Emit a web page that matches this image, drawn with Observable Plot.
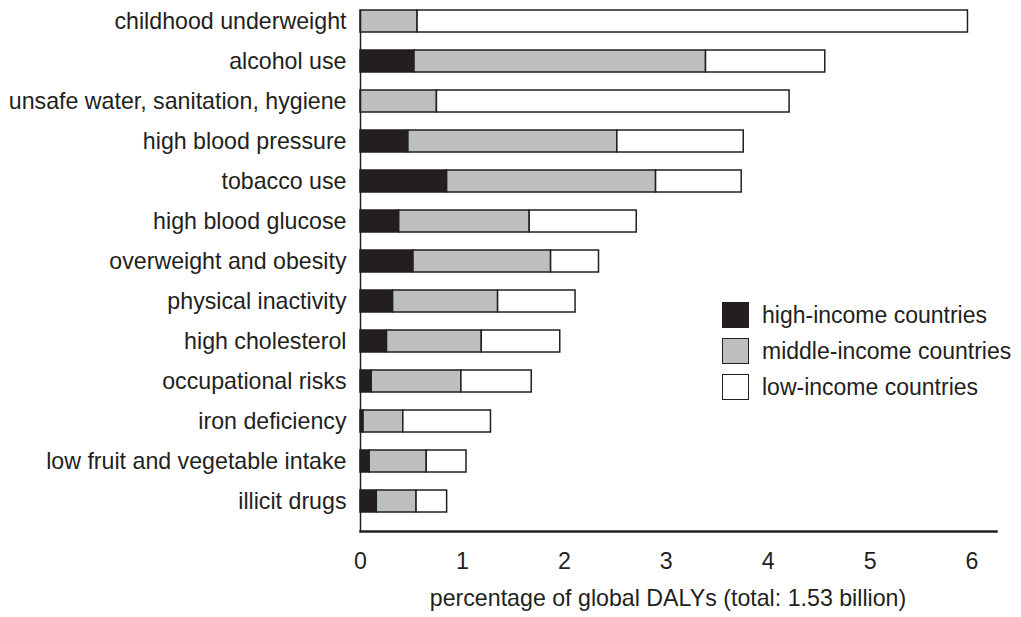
<!DOCTYPE html>
<html><head><meta charset="utf-8">
<script src="https://cdn.jsdelivr.net/npm/d3@7"></script>
<script src="https://cdn.jsdelivr.net/npm/@observablehq/plot@0.6"></script>
<style>
body{margin:0;background:#fff;}
#wrap{position:relative;width:1021px;height:617px;font-family:"Liberation Sans",Arial,sans-serif;color:#231f20;}
.leg{position:absolute;left:722px;height:26px;display:flex;align-items:center;font-size:23px;white-space:nowrap;}
.sw{width:27px;height:26px;border:1.5px solid #231f20;box-sizing:border-box;margin-right:13px;}
</style>
</head><body>
<div id="wrap"></div>
<script>
const categories = ["childhood underweight","alcohol use","unsafe water, sanitation, hygiene","high blood pressure","tobacco use","high blood glucose","overweight and obesity","physical inactivity","high cholesterol","occupational risks","iron deficiency","low fruit and vegetable intake","illicit drugs"];
const highIncome   = [0.00, 0.53, 0.00, 0.47, 0.85, 0.38, 0.52, 0.32, 0.26, 0.11, 0.03, 0.09, 0.16];
const middleIncome = [0.56, 2.86, 0.75, 2.05, 2.05, 1.28, 1.35, 1.03, 0.93, 0.88, 0.39, 0.56, 0.39];
const lowIncome    = [5.40, 1.17, 3.46, 1.24, 0.84, 1.05, 0.47, 0.76, 0.77, 0.69, 0.86, 0.39, 0.30];
const seriesNames = ["high-income countries","middle-income countries","low-income countries"];
const seriesColors = ["#231f20","#bcbec0","#ffffff"];
const xTicks = [0,1,2,3,4,5,6];
const xLabel = "percentage of global DALYs (total: 1.53 billion)";

const seriesValues = [highIncome, middleIncome, lowIncome];
const rows = [];
categories.forEach((c,i)=>{
  seriesValues.forEach((arr,j)=> rows.push({category:c, series:seriesNames[j], value:arr[i]}));
});

const chart = Plot.plot({
  width:1021, height:617,
  marginLeft:360, marginRight:25, marginTop:10, marginBottom:86,
  style:"font-family:'Liberation Sans',Arial,sans-serif;font-size:23.2px;color:#231f20;background:#fff;",
  x:{domain:[0,6.24], ticks:xTicks, tickSize:0, tickPadding:21, label:null, tickFormat:d=>String(d)},
  y:{domain:categories, paddingInner:0.45, paddingOuter:0.2375, align:0, round:false, tickSize:0, tickPadding:14, label:null},
  color:{domain:seriesNames, range:seriesColors},
  marks:[
    Plot.barX(rows, Plot.stackX({x:"value", y:"category", fill:"series", stroke:"#231f20", strokeWidth:1.5})),
    Plot.frame({anchor:"left", stroke:"#231f20", strokeWidth:1.5}),
    Plot.frame({anchor:"bottom", stroke:"#231f20", strokeWidth:2.5}),
    Plot.text([xLabel], {text:d=>d, frameAnchor:"bottom", dy:67, dx:-10.5, lineAnchor:"middle", fill:"#231f20"})
  ]
});
const wrap = document.getElementById("wrap");
wrap.appendChild(chart);

const legTops = [302, 338, 374];
seriesNames.forEach((name,i)=>{
  const row = document.createElement("div");
  row.className = "leg";
  row.style.top = legTops[i] + "px";
  const sw = document.createElement("div");
  sw.className = "sw";
  sw.style.background = seriesColors[i];
  row.appendChild(sw);
  const t = document.createElement("span");
  t.textContent = name;
  row.appendChild(t);
  wrap.appendChild(row);
});
</script>
</body></html>
